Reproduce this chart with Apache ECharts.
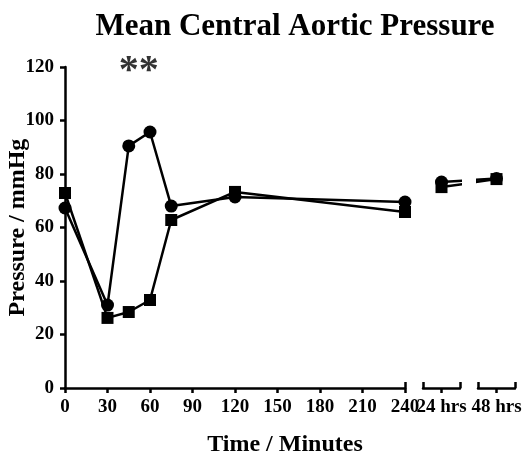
<!DOCTYPE html>
<html><head><meta charset="utf-8">
<script src="https://cdn.jsdelivr.net/npm/echarts@6/dist/echarts.min.js"></script>
<style>body{margin:0;background:#fff}#c{width:523px;height:462px}</style>
</head><body><div id="c"></div>
<script>
// ---- data ----
const minutes = [0, 30, 45, 60, 75, 120, 240];
const circleMin = [67.3, 31.0, 90.5, 95.7, 68.0, 71.4, 69.5];
const squareMin = [72.9, 26.2, 28.4, 32.9, 62.8, 73.3, 65.8];
const lateLabels = ['24 hrs', '48 hrs'];
const circleLate = [77.0, 78.3];
const squareLate = [75.1, 78.1];
const yMin = 0, yMax = 120, yStep = 20;
const xMin = 0, xMax = 240, xStep = 30;
const sigMark = [{ x: 52, y: 120, text: '**' }];

// ---- layout ----
const FONT = 'Liberation Serif';
const black = '#000';
const gA = { left: 65, top: 67, width: 340, height: 321 };
const gB = { left: 423, top: 67, width: 37, height: 321 };
const gC = { left: 478, top: 67, width: 37, height: 321 };
const posB = [1, 4];
const posC = [-2, 1];

const labelStyle = { color: black, fontFamily: FONT, fontWeight: 'bold', fontSize: 19 };
const axLine = { show: true, lineStyle: { color: black, width: 2.5 } };
const axTick = { show: true, length: 5, lineStyle: { color: black, width: 2.5 } };

function mainX() {
  return {
    gridIndex: 0, type: 'value', min: xMin, max: xMax, interval: xStep,
    axisLine: axLine, axisTick: axTick, splitLine: { show: false },
    axisLabel: Object.assign({ margin: 10 }, labelStyle)
  };
}
function capAxis(grid, min, max, vals) {
  return {
    gridIndex: grid, type: 'value', min: min, max: max, position: 'bottom',
    axisLine: { show: false }, splitLine: { show: false },
    axisTick: { show: true, inside: true, length: 6, customValues: vals, lineStyle: { color: black, width: 2.5 } },
    axisLabel: { show: false }
  };
}
function lateX(grid, label) {
  return {
    gridIndex: grid, type: 'value', min: 0, max: 2, position: 'bottom',
    axisLine: axLine, splitLine: { show: false },
    axisTick: Object.assign({ customValues: [1] }, axTick),
    axisLabel: Object.assign({ margin: 10, customValues: [1], formatter: () => label }, labelStyle)
  };
}
function lineSeries(name, xi, yi, data, symbol, size, clip) {
  return {
    name: name, type: 'line', xAxisIndex: xi, yAxisIndex: yi, data: data,
    symbol: symbol, symbolSize: size, clip: clip, animation: false,
    lineStyle: { color: black, width: 2.5 }, itemStyle: { color: black }
  };
}

const series = [
  lineSeries('Circle', 0, 0, minutes.map((m, i) => [m, circleMin[i]]), 'circle', 13, false),
  lineSeries('Square', 0, 0, minutes.map((m, i) => [m, squareMin[i]]), 'rect', 12, false),
  lineSeries('Circle', 2, 1, [[posB[0], circleLate[0]], { value: [posB[1], circleLate[1]], symbol: 'none' }], 'circle', 13, true),
  lineSeries('Square', 2, 1, [[posB[0], squareLate[0]], { value: [posB[1], squareLate[1]], symbol: 'none' }], 'rect', 12, true),
  lineSeries('Circle', 4, 2, [{ value: [posC[0], circleLate[0]], symbol: 'none' }, [posC[1], circleLate[1]]], 'circle', 13, true),
  lineSeries('Square', 4, 2, [{ value: [posC[0], squareLate[0]], symbol: 'none' }, [posC[1], squareLate[1]]], 'rect', 12, true),
  {
    type: 'scatter', xAxisIndex: 0, yAxisIndex: 0, symbolSize: 0, animation: false,
    data: sigMark.map(s => [s.x, s.y]),
    label: { show: true, position: 'inside', formatter: (p) => sigMark[p.dataIndex].text,
      fontFamily: FONT, fontSize: 40, color: black, fontWeight: 'bold', offset: [0, 5] }
  }
];

const gridBase = { containLabel: false, outerBoundsMode: 'none' };
const chart = echarts.init(document.getElementById('c'), null, { renderer: 'canvas' });
chart.setOption({
  backgroundColor: '#fff',
  animation: false,
  title: {
    text: 'Mean Central Aortic Pressure', left: 290, top: 6, textAlign: 'center',
    textStyle: { fontFamily: FONT, fontWeight: 'bold', fontSize: 31, color: black }
  },
  grid: [
    Object.assign({}, gridBase, gA),
    Object.assign({}, gridBase, gB),
    Object.assign({}, gridBase, gC)
  ],
  xAxis: [
    mainX(),
    capAxis(0, xMin, xMax, [xMax]),
    lateX(1, lateLabels[0]),
    capAxis(1, 0, 2, [0, 2]),
    lateX(2, lateLabels[1]),
    capAxis(2, 0, 2, [0, 2])
  ],
  yAxis: [
    {
      gridIndex: 0, type: 'value', min: yMin, max: yMax, interval: yStep,
      axisLine: axLine, axisTick: axTick, splitLine: { show: false },
      axisLabel: Object.assign({ margin: 11 }, labelStyle),
      name: 'Pressure / mmHg', nameLocation: 'middle', nameGap: 35, nameRotate: 90,
      nameMoveOverlap: false,
      nameTextStyle: { fontFamily: FONT, fontWeight: 'bold', fontSize: 24, color: black }
    },
    { gridIndex: 1, type: 'value', min: yMin, max: yMax, show: false },
    { gridIndex: 2, type: 'value', min: yMin, max: yMax, show: false }
  ],
  graphic: [{
    type: 'text', x: 285, y: 445,
    style: { text: 'Time / Minutes', textAlign: 'center', textVerticalAlign: 'middle',
      font: 'bold 24px "Liberation Serif"', fill: black }
  }],
  series: series
});
</script>
</body></html>
